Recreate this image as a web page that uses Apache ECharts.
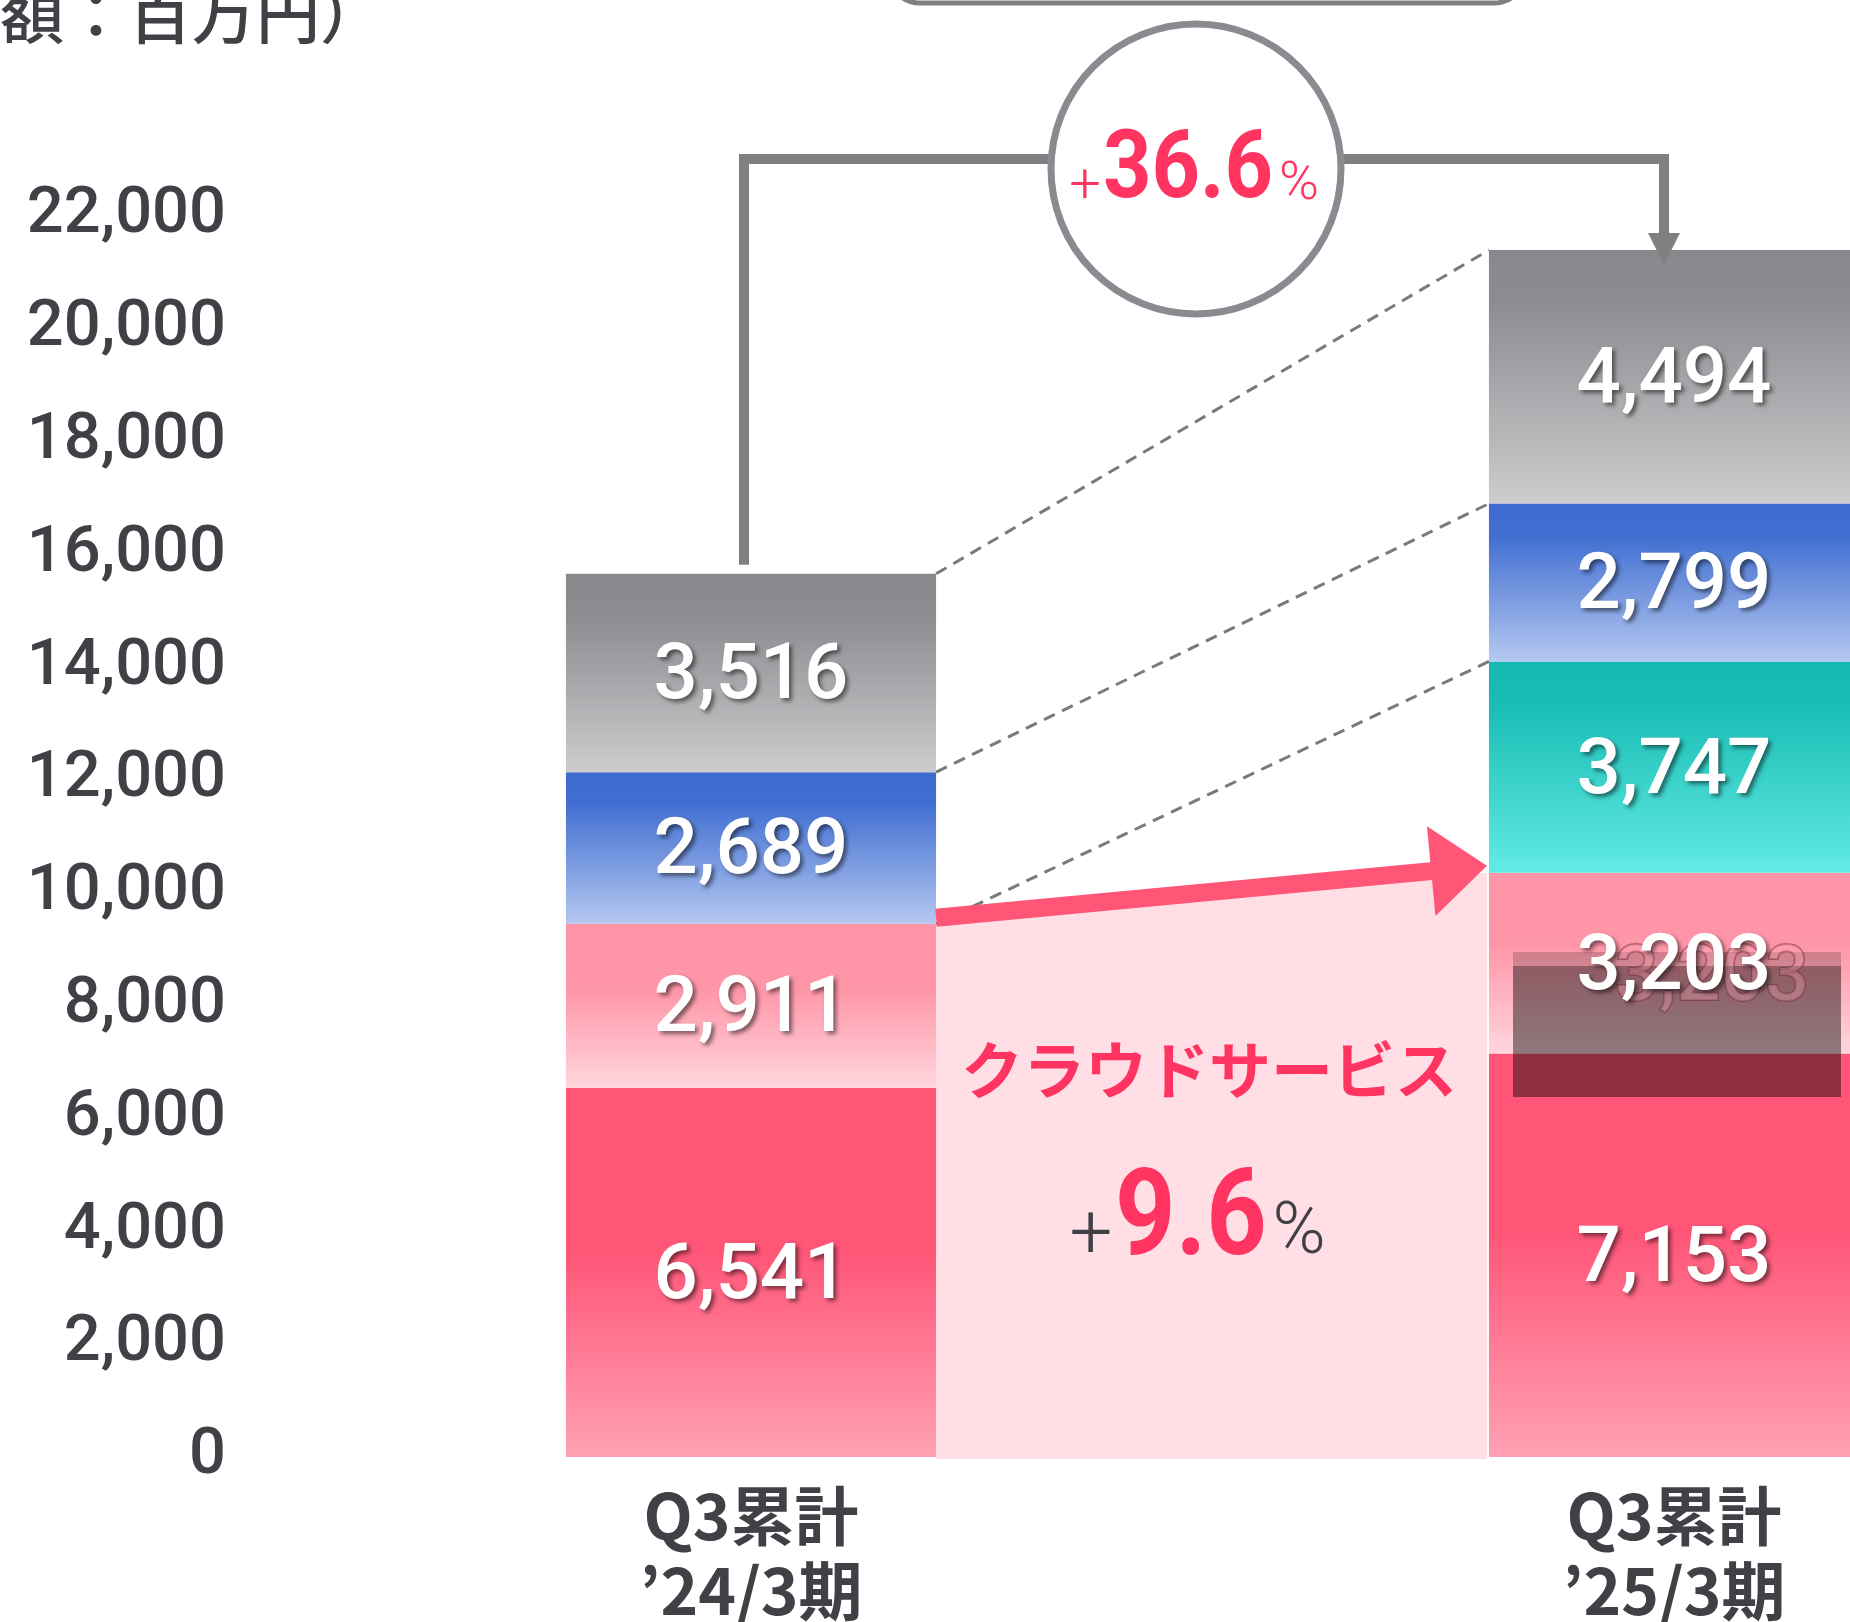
<!DOCTYPE html>
<html>
<head>
    <meta charset="UTF-8">
    <title>クラウドサービス 売上推移</title>
    <style type="text/css">
        html, body { margin:0; padding:0; background:#fff; }
        #main { width:1850px; height:1622px; }
    </style>
</head>
<body>
<div id="main"></div>
<script type="text/javascript" src="https://cdn.jsdelivr.net/npm/echarts@6/dist/echarts.min.js"></script>
<script type="text/javascript">
    // data (百万円)
    var categories = ['Q3累計\n’24/3期', 'Q3累計\n’25/3期'];
    var cloudMain = [6541, 7153];   // 赤
    var cloudSub = [2911, 3203];    // ピンク
    var teal = [null, 3747];        // 緑
    var blue = [2689, 2799];        // 青
    var gray = [3516, 4494];        // グレー
    var yMin = 0, yMax = 22000, yStep = 2000;
    var unitText = '（金額：百万円）';
    var cloudName = 'クラウドサービス';
    var totalGrowth = '36.6';
    var cloudGrowth = '9.6';

    var stacks = [cloudMain, cloudSub, teal, blue, gray];
    var BAR_RATIO = 0.401;
    var TEXT = '#404046';
    var RED = '#ff3461';

    // cumulative height of bar i up to (and incl.) stack level k
    function cum(i, k) {
        var s = 0;
        for (var j = 0; j <= k; j++) s += (stacks[j][i] || 0);
        return s;
    }
    function grad(stops) {
        return new echarts.graphic.LinearGradient(0, 0, 0, 1, stops.map(function (s) {
            return {offset: s[0], color: s[1]};
        }));
    }
    function edges(api, i) {
        var c = api.coord([i, 0]);
        var half = api.size([1, 0])[0] * BAR_RATIO / 2;
        return {l: c[0] - half, r: c[0] + half, c: c[0], y0: c[1]};
    }
    function yOf(api, v) { return api.coord([0, v])[1]; }

    var label = {
        show: true, position: 'inside', color: '#fff', offset: [0, 6],
        fontFamily: 'Roboto', fontWeight: 500, fontSize: 78,
        textShadowColor: 'rgba(0,0,0,0.5)', textShadowBlur: 4,
        textShadowOffsetX: 3, textShadowOffsetY: 3,
        formatter: function (p) { return p.value.toLocaleString('en-US'); }
    };
    function barSeries(name, data, stops) {
        return {
            name: name, type: 'bar', stack: 'total', data: data,
            barWidth: (BAR_RATIO * 100) + '%', z: 2,
            itemStyle: {color: grad(stops)}, label: label
        };
    }

    var chart = echarts.init(document.getElementById('main'));
    var option = {
        animation: false,
        grid: {left: 289.5, right: -285.5, top: 216, bottom: 165, containLabel: false, outerBoundsMode: 'none'},
        xAxis: {
            type: 'category', data: categories,
            axisLine: {show: false}, axisTick: {show: false},
            axisLabel: {margin: 21, fontSize: 64, lineHeight: 75, color: TEXT,
                fontFamily: 'Noto Sans CJK JP', fontWeight: 'bold'}
        },
        yAxis: {
            type: 'value', min: yMin, max: yMax, interval: yStep,
            splitLine: {show: false}, axisLine: {show: false}, axisTick: {show: false},
            axisLabel: {margin: 63.5, fontSize: 65, fontFamily: 'Roboto', fontWeight: 500,
                color: TEXT, padding: [0, 0, 13, 0],
                formatter: function (v) { return v.toLocaleString('en-US'); }}
        },
        series: [
            {
                // クラウドサービス 伸び率の帯
                type: 'custom', z: 1, data: [[0, 0]],
                renderItem: function (params, api) {
                    var a = edges(api, 0), b = edges(api, 1);
                    return {
                        type: 'polygon',
                        shape: {points: [[a.r, yOf(api, cum(0, 1))], [b.l - 2, yOf(api, cum(1, 1))],
                            [b.l - 2, a.y0 + 2], [a.r, a.y0 + 2]]},
                        style: {fill: '#ffdfe5'}
                    };
                }
            },
            barSeries('cloudMain', cloudMain, [[0, '#ff5577'], [0.44, '#ff5577'], [1, '#ffa1b3']]),
            barSeries('cloudSub', cloudSub, [[0, '#ff94a7'], [0.4, '#ff96a8'], [1, '#ffd6dd']]),
            barSeries('teal', teal, [[0, '#15b9b0'], [0.2, '#19bdb4'], [1, '#62ebe5']]),
            barSeries('blue', blue, [[0, '#3e6bd0'], [0.2, '#406ed1'], [1, '#b5c8f0']]),
            barSeries('gray', gray, [[0, '#88888d'], [0.2, '#8b8b90'], [1, '#cdcdcf']]),
            {
                // 描画の乱れ (3,203 の周辺)
                type: 'custom', z: 2, data: [[0, 0]],
                renderItem: function (params, api) {
                    return {
                        type: 'group', children: [
                            {type: 'rect', z2: 1, shape: {x: 1513, y: 952, width: 328, height: 14},
                                style: {fill: 'rgba(0,0,0,0.18)'}},
                            {type: 'rect', z2: 1, shape: {x: 1513, y: 966, width: 328, height: 131},
                                style: {fill: 'rgba(0,0,0,0.44)'}},
                            {type: 'text', z2: 1, style: {x: 1712, y: 980, text: '3,203',
                                font: '500 78px Roboto', align: 'center', verticalAlign: 'middle',
                                fill: 'rgba(255,170,185,0.3)', stroke: 'rgba(110,40,55,0.5)', lineWidth: 2}}
                        ]
                    };
                }
            },
            {
                // 点線・矢印・コネクタ
                type: 'custom', z: 3, data: [[0, 0]],
                renderItem: function (params, api) {
                    var a = edges(api, 0), b = edges(api, 1);
                    var kids = [];
                    [2, 3, 4].forEach(function (k) {
                        kids.push({
                            type: 'line',
                            shape: {x1: a.r, y1: yOf(api, cum(0, k)), x2: b.l, y2: yOf(api, cum(1, k))},
                            style: {stroke: '#7a7a7a', lineWidth: 3, lineDash: [12, 8]}
                        });
                    });
                    // 赤矢印
                    var s = [a.r, yOf(api, cum(0, 1)) - 6], t = [b.l - 2, yOf(api, cum(1, 1)) - 7];
                    var dx = t[0] - s[0], dy = t[1] - s[1], len = Math.sqrt(dx * dx + dy * dy);
                    var d = [dx / len, dy / len], n = [-d[1], d[0]];
                    var neck = [t[0] - d[0] * 56, t[1] - d[1] * 56];
                    function off(p, w) { return [p[0] + n[0] * w, p[1] + n[1] * w]; }
                    kids.push({
                        type: 'polygon',
                        shape: {points: [off(s, 9), off(neck, 9), off(neck, 45), t, off(neck, -45), off(neck, -9), off(s, -9)]},
                        style: {fill: '#ff5577'}
                    });
                    // 合計のコネクタ
                    var top0 = yOf(api, cum(0, 4)), x0 = a.c - 7, x1 = b.c - 10;
                    kids.push({
                        type: 'polyline',
                        shape: {points: [[x0, top0 - 9], [x0, 159], [x1, 159], [x1, 236]]},
                        style: {stroke: '#808080', lineWidth: 10, fill: null, lineJoin: 'miter'}
                    });
                    kids.push({
                        type: 'polygon',
                        shape: {points: [[x1 - 16, 233], [x1 + 16, 233], [x1, 265]]},
                        style: {fill: '#808080'}
                    });
                    return {type: 'group', children: kids};
                }
            }
        ],
        graphic: [
            {type: 'text', z: 10, style: {x: -128, y: 14, text: unitText, font: '500 64px "Noto Sans CJK JP"',
                fill: TEXT, verticalAlign: 'middle'}},
            {type: 'rect', z: 10, shape: {x: 888, y: -80, width: 638, height: 83, r: 32},
                style: {fill: '#fff', stroke: '#808080', lineWidth: 5}},
            {type: 'circle', z: 10, shape: {cx: 1196, cy: 169, r: 145},
                style: {fill: '#fff', stroke: '#8a8a90', lineWidth: 7}},
            {type: 'text', z: 11, style: {x: 1085, y: 188, text: '+', font: '300 56px Roboto',
                fill: RED, align: 'center', verticalAlign: 'middle'}},
            {type: 'text', z: 11, x: 1188, y: 173, scaleX: 0.9, style: {x: 0, y: 0, text: totalGrowth,
                font: 'bold 94px Roboto', fill: RED, align: 'center', verticalAlign: 'middle'}},
            {type: 'text', z: 11, style: {x: 1299, y: 185, text: '%', font: '300 54px Roboto',
                fill: RED, align: 'center', verticalAlign: 'middle'}},
            {type: 'text', z: 11, style: {x: 1209, y: 1070, text: cloudName, font: 'bold 62px "Noto Sans CJK JP"',
                fill: RED, align: 'center', verticalAlign: 'middle'}},
            {type: 'text', z: 11, style: {x: 1091, y: 1238, text: '+', font: '300 76px Roboto',
                fill: TEXT, align: 'center', verticalAlign: 'middle'}},
            {type: 'text', z: 11, x: 1191, y: 1224, scaleX: 0.88, style: {x: 0, y: 0, text: cloudGrowth,
                font: 'bold 120px Roboto', fill: RED, align: 'center', verticalAlign: 'middle'}},
            {type: 'text', z: 11, style: {x: 1299, y: 1235, text: '%', font: '300 72px Roboto',
                fill: TEXT, align: 'center', verticalAlign: 'middle'}}
        ]
    };
    chart.setOption(option);
</script>
</body>
</html>
